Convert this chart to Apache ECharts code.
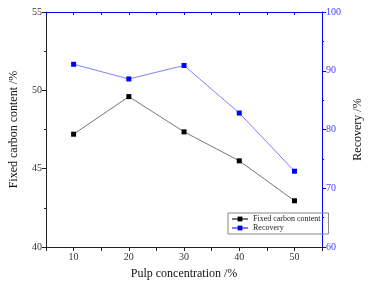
<!DOCTYPE html>
<html>
<head>
<meta charset="utf-8">
<script src="https://cdn.jsdelivr.net/npm/echarts@6/dist/echarts.min.js"></script>
<style>
  html, body { margin: 0; padding: 0; background: #fff; }
  #chart { width: 372px; height: 285px; }
</style>
</head>
<body>
<div id="chart"></div>
<script>
// pulp concentration (%)
var concentration = [10, 20, 30, 40, 50];
// fixed carbon content (%), left axis
var fixedCarbon = [47.2, 49.6, 47.35, 45.5, 42.95];
// recovery (%), right axis
var recovery = [91.1, 88.6, 90.9, 82.8, 72.9];

var font = 'Liberation Serif';
var myChart = echarts.init(document.getElementById('chart'));

function pairs(xs, ys) {
  return xs.map(function (x, i) { return [x, ys[i]]; });
}

var option = {
  backgroundColor: '#fff',
  animation: false,
  textStyle: { fontFamily: font },
  grid: { left: 40, right: 41, top: 12, bottom: 38 },
  legend: {
    orient: 'vertical',
    left: 228,
    top: 213,
    padding: [2, 8, 2, 3],
    itemGap: 1,
    itemWidth: 16,
    itemHeight: 6,
    borderColor: '#888',
    borderWidth: 1,
    textStyle: { fontFamily: font, fontSize: 8, color: '#222' },
    data: ['Fixed carbon content', 'Recovery']
  },
  xAxis: [{
    type: 'value',
    position: 'bottom',
    min: 5, max: 55, interval: 5,
    name: 'Pulp concentration /%',
    nameLocation: 'middle',
    nameGap: 21,
    nameTextStyle: { fontFamily: font, fontSize: 12, color: '#111' },
    axisLine: { lineStyle: { color: '#222' } },
    axisTick: { length: 4, lineStyle: { color: '#222' } },
    axisLabel: {
      fontFamily: font, fontSize: 10, color: '#333', margin: 5,
      formatter: function (v) { return v % 10 === 0 ? v : ''; }
    },
    splitLine: { show: false }
  }, {
    type: 'value',
    position: 'top',
    min: 5, max: 55, interval: 5,
    axisLine: { lineStyle: { color: '#0000ff' } },
    axisTick: { inside: true, length: 3, lineStyle: { color: '#0000ff' } },
    axisLabel: { show: false },
    splitLine: { show: false }
  }],
  yAxis: [{
    type: 'value',
    position: 'left',
    min: 40, max: 55, interval: 5,
    name: 'Fixed carbon content /%',
    nameLocation: 'middle',
    nameGap: 26,
    nameTextStyle: { fontFamily: font, fontSize: 12, color: '#111' },
    axisLine: { show: true, lineStyle: { color: '#222' } },
    axisTick: { show: true, length: 4, lineStyle: { color: '#222' } },
    minorTick: { show: true, splitNumber: 2, length: 2, lineStyle: { color: '#222' } },
    axisLabel: { fontFamily: font, fontSize: 10, color: '#333', margin: 4 },
    splitLine: { show: false }
  }, {
    type: 'value',
    position: 'right',
    min: 60, max: 100, interval: 10,
    name: 'Recovery /%',
    nameLocation: 'middle',
    nameGap: 24,
    nameRotate: 90,
    nameTextStyle: { fontFamily: font, fontSize: 12, color: '#111' },
    axisLine: { show: true, lineStyle: { color: '#0000ff' } },
    axisTick: { show: true, length: 4, lineStyle: { color: '#0000ff' } },
    minorTick: { show: true, splitNumber: 2, length: 2, lineStyle: { color: '#0000ff' } },
    axisLabel: { fontFamily: font, fontSize: 10, color: '#4444ff', margin: 4 },
    splitLine: { show: false }
  }],
  series: [{
    name: 'Fixed carbon content',
    type: 'line',
    xAxisIndex: 0,
    yAxisIndex: 0,
    data: pairs(concentration, fixedCarbon),
    symbol: 'rect',
    symbolSize: 5,
    itemStyle: { color: '#000' },
    lineStyle: { color: '#777', width: 1 }
  }, {
    name: 'Recovery',
    type: 'line',
    xAxisIndex: 0,
    yAxisIndex: 1,
    data: pairs(concentration, recovery),
    symbol: 'rect',
    symbolSize: 5,
    itemStyle: { color: '#0000ff' },
    lineStyle: { color: '#8080ff', width: 1 }
  }]
};

option && myChart.setOption(option);
</script>
</body>
</html>
